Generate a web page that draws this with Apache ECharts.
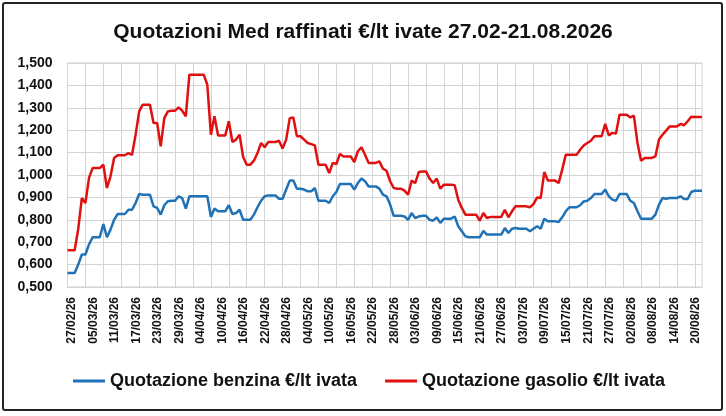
<!DOCTYPE html>
<html>
<head>
<meta charset="utf-8">
<script src="https://cdn.jsdelivr.net/npm/echarts@6/dist/echarts.min.js"></script>
<style>
  html, body { margin: 0; padding: 0; background: #ffffff; }
  #frame { position: absolute; left: 2px; top: 2px; width: 717px; height: 405px; border: 2px solid #222; border-radius: 3px; }
  #main { width: 726px; height: 416px; }
</style>
</head>
<body>
<div id="main"></div>
<div id="frame"></div>
<script>
// giorni di calendario dal 27/02/26
var startDay = Date.UTC(2026, 1, 27);
var dayCount = 178;

var benzina = [
  0.563, 0.563, 0.563, 0.600, 0.645, 0.645, 0.690, 0.722, 0.722, 0.722,
  0.781, 0.722, 0.756, 0.800, 0.826, 0.826, 0.826, 0.845, 0.845, 0.875,
  0.915, 0.912, 0.912, 0.912, 0.860, 0.853, 0.823, 0.865, 0.883, 0.885,
  0.885, 0.905, 0.897, 0.850, 0.905, 0.905, 0.905, 0.905, 0.905, 0.905,
  0.813, 0.850, 0.838, 0.838, 0.838, 0.865, 0.826, 0.830, 0.845, 0.800,
  0.800, 0.800, 0.823, 0.856, 0.885, 0.905, 0.909, 0.909, 0.909, 0.894,
  0.894, 0.935, 0.975, 0.975, 0.939, 0.939, 0.935, 0.927, 0.927, 0.942,
  0.885, 0.885, 0.885, 0.875, 0.905, 0.924, 0.960, 0.960, 0.960, 0.960,
  0.935, 0.964, 0.984, 0.972, 0.949, 0.949, 0.949, 0.939, 0.912, 0.905,
  0.868, 0.818, 0.818, 0.818, 0.815, 0.800, 0.830, 0.808, 0.815, 0.818,
  0.818, 0.800, 0.796, 0.811, 0.786, 0.805, 0.805, 0.805, 0.815, 0.771,
  0.749, 0.726, 0.722, 0.722, 0.722, 0.722, 0.751, 0.734, 0.734, 0.734,
  0.734, 0.734, 0.763, 0.741, 0.760, 0.763, 0.760, 0.760, 0.760, 0.749,
  0.760, 0.771, 0.760, 0.805, 0.793, 0.793, 0.793, 0.790, 0.811, 0.838,
  0.856, 0.856, 0.856, 0.865, 0.882, 0.885, 0.897, 0.915, 0.915, 0.915,
  0.935, 0.905, 0.890, 0.885, 0.915, 0.915, 0.915, 0.885, 0.875, 0.838,
  0.805, 0.805, 0.805, 0.805, 0.823, 0.868, 0.897, 0.894, 0.897, 0.897,
  0.897, 0.905, 0.893, 0.893, 0.924, 0.930, 0.930, 0.930
];

var gasolio = [
  0.664, 0.664, 0.664, 0.760, 0.897, 0.875, 0.987, 1.031, 1.031, 1.031,
  1.046, 0.942, 0.994, 1.076, 1.088, 1.088, 1.088, 1.098, 1.090, 1.180,
  1.284, 1.314, 1.314, 1.314, 1.232, 1.232, 1.128, 1.254, 1.284, 1.287,
  1.287, 1.302, 1.287, 1.262, 1.448, 1.448, 1.448, 1.448, 1.448, 1.403,
  1.180, 1.262, 1.176, 1.176, 1.176, 1.240, 1.147, 1.158, 1.180, 1.080,
  1.046, 1.046, 1.064, 1.098, 1.143, 1.124, 1.147, 1.147, 1.147, 1.153,
  1.118, 1.158, 1.254, 1.257, 1.173, 1.173, 1.158, 1.143, 1.138, 1.132,
  1.046, 1.046, 1.046, 1.009, 1.054, 1.049, 1.094, 1.083, 1.083, 1.083,
  1.058, 1.106, 1.124, 1.090, 1.054, 1.054, 1.054, 1.061, 1.028, 1.019,
  0.972, 0.942, 0.939, 0.939, 0.930, 0.912, 0.975, 0.964, 1.013, 1.016,
  1.016, 0.984, 0.964, 0.984, 0.939, 0.957, 0.957, 0.957, 0.954, 0.890,
  0.853, 0.823, 0.823, 0.823, 0.823, 0.796, 0.830, 0.808, 0.813, 0.813,
  0.813, 0.813, 0.845, 0.811, 0.838, 0.860, 0.860, 0.860, 0.860, 0.856,
  0.870, 0.900, 0.897, 1.013, 0.975, 0.975, 0.975, 0.964, 1.024, 1.090,
  1.090, 1.090, 1.090, 1.113, 1.132, 1.143, 1.153, 1.173, 1.173, 1.173,
  1.228, 1.177, 1.188, 1.185, 1.269, 1.269, 1.269, 1.257, 1.265, 1.143,
  1.064, 1.076, 1.076, 1.076, 1.083, 1.158, 1.180, 1.198, 1.217, 1.217,
  1.217, 1.228, 1.222, 1.240, 1.260, 1.259, 1.259, 1.259
];

var seriesNames = ['Quotazione benzina €/lt ivata', 'Quotazione gasolio €/lt ivata'];
var seriesColors = ['#2072b6', '#e01010'];
var yTicks = { min: 0.5, max: 1.5, step: 0.1 };

function pad(n) { return (n < 10 ? '0' : '') + n; }
var dates = [];
for (var i = 0; i < dayCount; i++) {
  var d = new Date(startDay + i * 86400000);
  dates.push(pad(d.getUTCDate()) + '/' + pad(d.getUTCMonth() + 1) + '/' + String(d.getUTCFullYear()).slice(2));
}

var font = "'Liberation Sans', sans-serif";
var chart = echarts.init(document.getElementById('main'));
chart.setOption({
  backgroundColor: '#ffffff',
  animation: false,
  title: {
    text: 'Quotazioni Med raffinati €/lt ivate 27.02-21.08.2026',
    left: 'center',
    top: 17,
    textStyle: { fontFamily: font, fontSize: 21, fontWeight: 'bold', color: '#111' }
  },
  legend: {
    bottom: 21,
    left: 68,
    itemGap: 28,
    itemWidth: 32,
    itemHeight: 3,
    icon: 'rect',
    data: seriesNames,
    textStyle: { fontFamily: font, fontSize: 18, fontWeight: 'bold', color: '#111' }
  },
  grid: {
    left: 67.5,
    right: 24,
    top: 63,
    bottom: 129,
    show: true,
    borderColor: '#d4d4d4',
    borderWidth: 1
  },
  xAxis: {
    type: 'category',
    boundaryGap: false,
    data: dates,
    axisLine: { lineStyle: { color: '#d4d4d4' } },
    axisTick: { show: false },
    axisLabel: {
      interval: 5,
      rotate: 90,
      margin: 10,
      verticalAlign: 'top',
      lineHeight: 9,
      fontFamily: font,
      fontSize: 12,
      fontWeight: 'bold',
      color: '#111'
    },
    splitLine: { show: true, interval: 4, lineStyle: { color: '#d4d4d4' } }
  },
  yAxis: {
    type: 'value',
    min: yTicks.min,
    max: yTicks.max,
    interval: yTicks.step,
    axisLine: { show: false },
    axisTick: { show: false },
    axisLabel: {
      margin: 15,
      fontFamily: font,
      fontSize: 14,
      fontWeight: 'bold',
      color: '#111',
      formatter: function (v) { return v.toFixed(3).replace('.', ','); }
    },
    splitLine: { lineStyle: { color: '#d4d4d4' } }
  },
  series: [
    {
      name: seriesNames[0],
      type: 'line',
      data: benzina,
      showSymbol: false,
      color: seriesColors[0],
      lineStyle: { width: 2.5 }
    },
    {
      name: seriesNames[1],
      type: 'line',
      data: gasolio,
      showSymbol: false,
      color: seriesColors[1],
      lineStyle: { width: 2.5 }
    }
  ]
});
</script>
</body>
</html>
